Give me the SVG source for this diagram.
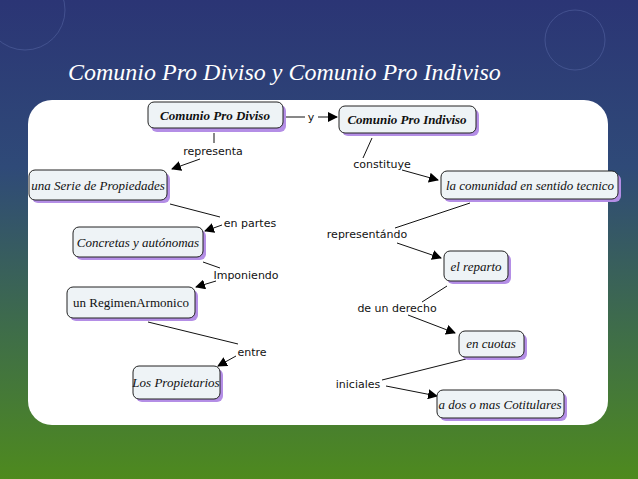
<svg xmlns="http://www.w3.org/2000/svg" width="638" height="479" viewBox="0 0 638 479">
<defs>
<linearGradient id="bg" x1="0" y1="0" x2="0" y2="1">
<stop offset="0" stop-color="#2b3575"/><stop offset="0.35" stop-color="#2f4a78"/><stop offset="0.7" stop-color="#3f6e48"/><stop offset="1" stop-color="#4e8a1e"/>
</linearGradient>
<marker id="ah" viewBox="0 0 10 10" refX="9" refY="5" markerWidth="10" markerHeight="10" markerUnits="userSpaceOnUse" orient="auto"><path d="M0,0L10,5L0,10z" fill="#000"/></marker>
<style>
.sh{fill:#b48ee6}
.bx{fill:#eef3f6;stroke:#222;stroke-width:1}
.t{font-family:"Liberation Serif",serif;font-style:italic;font-size:13px;fill:#111;text-anchor:middle}
.b{font-weight:bold}
.n{font-style:normal}
.l{font-family:"DejaVu Sans",sans-serif;font-size:11px;fill:#111;text-anchor:middle}
.c line{stroke:#111;stroke-width:1}
</style>
</defs>
<rect width="638" height="479" fill="url(#bg)"/>
<circle cx="25" cy="10" r="40" fill="none" stroke="#5a6aa8" stroke-opacity="0.5"/>
<circle cx="575" cy="40" r="30" fill="none" stroke="#5a6aa8" stroke-opacity="0.5"/>
<text x="68" y="80" font-family="Liberation Serif,serif" font-style="italic" font-size="24" fill="#fff">Comunio Pro Diviso y Comunio Pro Indiviso</text>
<rect x="28" y="100" width="580" height="325" rx="24" fill="#fff"/>
<g class="c">
<line x1="283" y1="117" x2="305" y2="117"/><line x1="318" y1="117" x2="337" y2="117" marker-end="url(#ah)"/>
<line x1="214" y1="133" x2="214" y2="143"/><line x1="200" y1="159" x2="172" y2="169" marker-end="url(#ah)"/>
<line x1="170" y1="204" x2="220" y2="217"/><line x1="222" y1="225" x2="205" y2="231" marker-end="url(#ah)"/>
<line x1="203" y1="262" x2="220" y2="268"/><line x1="216" y1="281" x2="196" y2="287" marker-end="url(#ah)"/>
<line x1="148" y1="322" x2="238" y2="344"/><line x1="236" y1="356" x2="218" y2="366" marker-end="url(#ah)"/>
<line x1="372" y1="138" x2="363" y2="158"/><line x1="402" y1="170" x2="438" y2="180" marker-end="url(#ah)"/>
<line x1="470" y1="203" x2="395" y2="228"/><line x1="397" y1="243" x2="441" y2="258" marker-end="url(#ah)"/>
<line x1="447" y1="286" x2="422" y2="302"/><line x1="408" y1="315" x2="455" y2="333" marker-end="url(#ah)"/>
<line x1="466" y1="359" x2="382" y2="380"/><line x1="386" y1="386" x2="437" y2="396" marker-end="url(#ah)"/>
</g>
<g class="lbls">
<text class="l" x="311" y="121">y</text>
<text class="l" x="213" y="155">representa</text>
<text class="l" x="250" y="227">en partes</text>
<text class="l" x="246" y="279">Imponiendo</text>
<text class="l" x="252" y="356">entre</text>
<text class="l" x="382" y="168">constituye</text>
<text class="l" x="367" y="238">representándo</text>
<text class="l" x="397" y="312">de un derecho</text>
<text class="l" x="358" y="388">iniciales</text>
</g>
<g id="n1"><rect class="sh" x="151" y="105" width="135" height="27" rx="6"/><rect class="bx" x="148" y="102" width="135" height="26" rx="6"/><text class="t b" x="215" y="120">Comunio Pro Diviso</text></g>
<g id="n2"><rect class="sh" x="342" y="109" width="137" height="27" rx="6"/><rect class="bx" x="339" y="106" width="137" height="27" rx="6"/><text class="t b" x="407" y="124">Comunio Pro Indiviso</text></g>
<g id="n3"><rect class="sh" x="32" y="173" width="138" height="30" rx="6"/><rect class="bx" x="29" y="170" width="138" height="30" rx="6"/><text class="t" x="98" y="190">una Serie de Propiedades</text></g>
<g id="n4"><rect class="sh" x="444" y="174" width="177" height="28" rx="6"/><rect class="bx" x="441" y="171" width="177" height="28" rx="6"/><text class="t" x="530" y="190">la comunidad en sentido tecnico</text></g>
<g id="n5"><rect class="sh" x="76" y="230" width="130" height="30" rx="6"/><rect class="bx" x="73" y="227" width="130" height="30" rx="6"/><text class="t" x="138" y="247">Concretas y autónomas</text></g>
<g id="n6"><rect class="sh" x="447" y="254" width="64" height="30" rx="6"/><rect class="bx" x="444" y="251" width="64" height="30" rx="6"/><text class="t" x="476" y="271">el reparto</text></g>
<g id="n7"><rect class="sh" x="70" y="290" width="128" height="31" rx="6"/><rect class="bx" x="67" y="287" width="128" height="31" rx="6"/><text class="t n" x="131" y="307">un RegimenArmonico</text></g>
<g id="n8"><rect class="sh" x="462" y="334" width="65" height="26" rx="6"/><rect class="bx" x="459" y="331" width="65" height="26" rx="6"/><text class="t" x="491" y="348">en cuotas</text></g>
<g id="n9"><rect class="sh" x="136" y="369" width="87" height="33" rx="6"/><rect class="bx" x="133" y="366" width="87" height="33" rx="6"/><text class="t" x="176" y="387">Los Propietarios</text></g>
<g id="n10"><rect class="sh" x="440" y="393" width="127" height="28" rx="6"/><rect class="bx" x="437" y="390" width="127" height="28" rx="6"/><text class="t" x="500" y="409">a dos o mas Cotitulares</text></g>
</svg>
